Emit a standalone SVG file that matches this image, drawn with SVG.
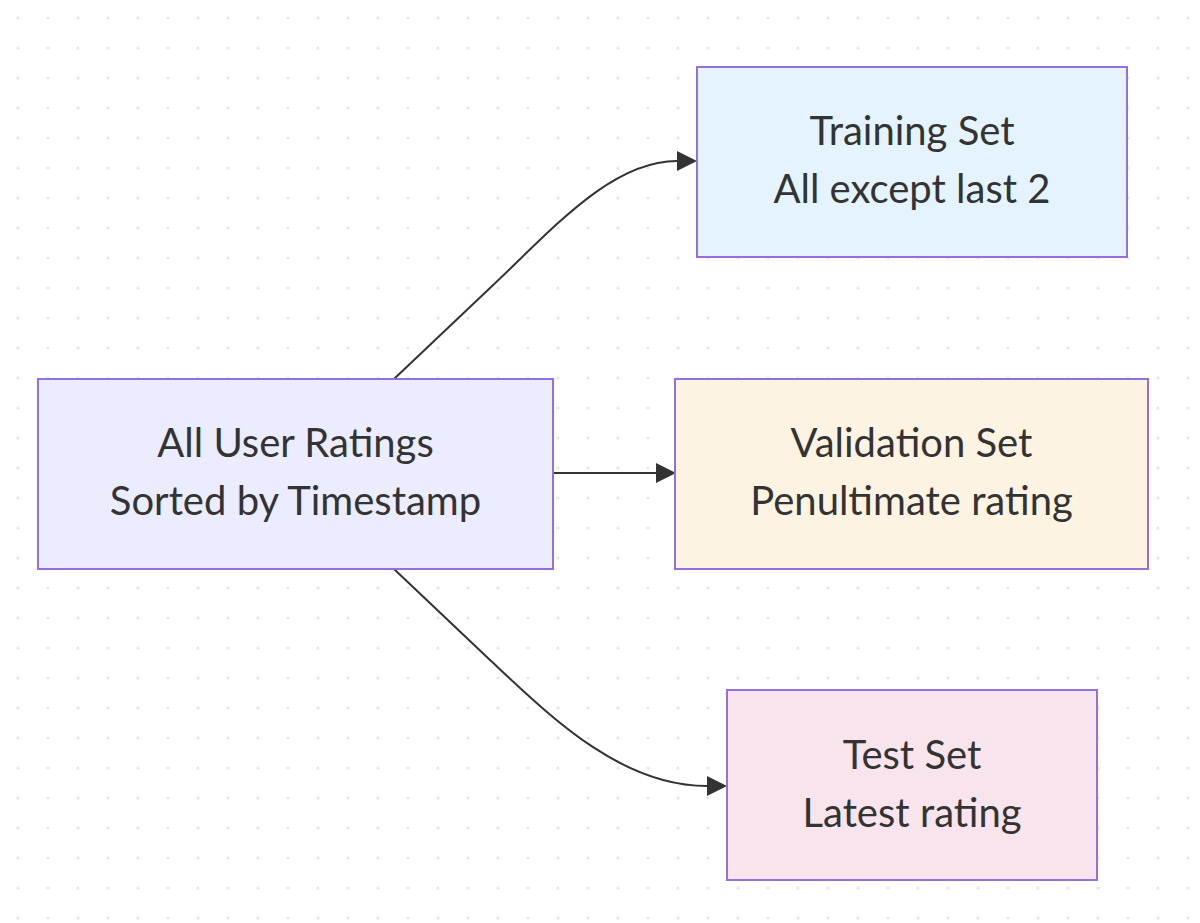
<svg xmlns="http://www.w3.org/2000/svg" width="1200" height="923" viewBox="0 0 1200 923">
  <defs>
    <pattern id="dots" x="0" y="0" width="30" height="30" patternUnits="userSpaceOnUse">
      <circle cx="18" cy="18" r="1.6" fill="#e6e6e6"/>
    </pattern>
    <marker id="arrow" viewBox="0 0 20 20" refX="0" refY="10" markerWidth="20" markerHeight="20" markerUnits="userSpaceOnUse" orient="auto">
      <path d="M0,0 L20,10 L0,20 z" fill="#333333"/>
    </marker>
  </defs>
  <style>
    .node rect { stroke: #9370DB; stroke-width: 2; }
    .node text { font-family: Lato, "Open Sans", "DejaVu Sans", sans-serif; font-size: 40px; fill: #333333; text-anchor: middle; }
    .edge { fill: none; stroke: #333333; stroke-width: 2; marker-end: url(#arrow); }
  </style>
  <rect width="1200" height="923" fill="#ffffff"/>
  <rect width="1200" height="923" fill="url(#dots)"/>

  <g id="connectors">
    <path class="edge" d="M394,379 L490,288 C550,232 610,161 677,161"/>
    <path class="edge" d="M553,473 L656,473"/>
    <path class="edge" d="M394,569 L490,660 C550,716 620,786 707,786"/>
  </g>

  <g id="source" class="node">
    <rect x="38" y="379" width="515" height="190" fill="#ECECFF"/>
    <text x="295.5" y="457">All User Ratings</text>
    <text x="295.5" y="515">Sorted by Timestamp</text>
  </g>
  <g id="training" class="node">
    <rect x="697" y="67" width="430" height="190" fill="#E4F3FD"/>
    <text x="912" y="145">Training Set</text>
    <text x="912" y="203">All except last 2</text>
  </g>
  <g id="validation" class="node">
    <rect x="675" y="379" width="473" height="190" fill="#FDF3E3"/>
    <text x="911.5" y="457">Validation Set</text>
    <text x="911.5" y="515">Penultimate rating</text>
  </g>
  <g id="test" class="node">
    <rect x="727" y="690" width="370" height="190" fill="#F8E4EC"/>
    <text x="912" y="769">Test Set</text>
    <text x="912" y="827">Latest rating</text>
  </g>
</svg>
